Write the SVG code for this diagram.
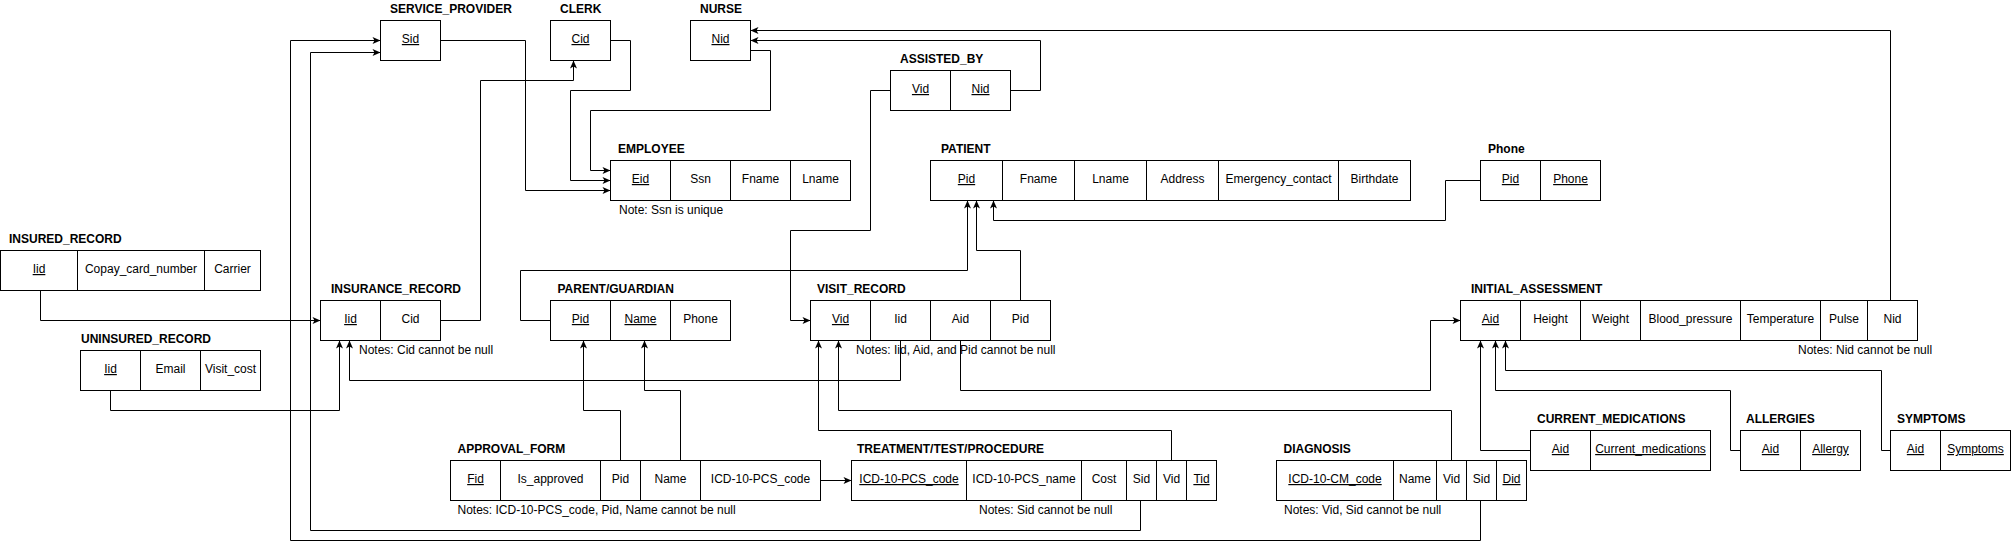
<svg xmlns="http://www.w3.org/2000/svg" width="2011" height="550" viewBox="0 0 2011 550">
<style>
rect{fill:#fff;stroke:#000;stroke-width:1}
text{font-family:"Liberation Sans",Arial,Helvetica,sans-serif;font-size:12px;fill:#000}
.c{text-anchor:middle}
.u{text-decoration:underline}
.l{font-weight:bold}
.e{fill:none;stroke:#000;stroke-width:1}
</style>
<defs>
<marker id="a" markerUnits="userSpaceOnUse" markerWidth="10" markerHeight="8" viewBox="0 0 10 8" refX="9" refY="4" orient="auto">
<path d="M1,0.5 L9,4 L1,7.5 L3,4 z" fill="#000"/>
</marker>
</defs>
<rect x="0" y="0" width="2011" height="550" style="stroke:none"/>
<g id="connectors">
<path class="e" marker-end="url(#a)" d="M440.5,40.5 H525.5 V190.5 H610.5"/>
<path class="e" marker-end="url(#a)" d="M610.5,40.5 H630.5 V90.5 H570.5 V180.5 H610.5"/>
<path class="e" marker-end="url(#a)" d="M750.5,50.5 H770.5 V110.5 H590.5 V170.5 H610.5"/>
<path class="e" marker-end="url(#a)" d="M440.5,320.5 H480.5 V80.5 H573.5 V60.5"/>
<path class="e" marker-end="url(#a)" d="M40.5,290.5 V320.5 H320.5"/>
<path class="e" marker-end="url(#a)" d="M110.5,390.5 V410.5 H339.5 V340.5"/>
<path class="e" marker-end="url(#a)" d="M900.5,340.5 V380.5 H349.5 V340.5"/>
<path class="e" marker-end="url(#a)" d="M1140.5,500.5 V530.5 H310.5 V52.5 H380.5"/>
<path class="e" marker-end="url(#a)" d="M1480.5,500.5 V540.5 H290.5 V40.5 H380.5"/>
<path class="e" marker-end="url(#a)" d="M1010.5,90.5 H1040.5 V40.5 H750.5"/>
<path class="e" marker-end="url(#a)" d="M1890.5,300.5 V30.5 H750.5"/>
<path class="e" marker-end="url(#a)" d="M890.5,90.5 H870.5 V230.5 H790.5 V320.5 H810.5"/>
<path class="e" marker-end="url(#a)" d="M550.5,320.5 H520.5 V270.5 H967.5 V200.5"/>
<path class="e" marker-end="url(#a)" d="M1020.5,300.5 V250.5 H976.5 V200.5"/>
<path class="e" marker-end="url(#a)" d="M1480.5,180.5 H1445.5 V220.5 H993.5 V200.5"/>
<path class="e" marker-end="url(#a)" d="M960.5,340.5 V390.5 H1430.5 V320.5 H1460.5"/>
<path class="e" marker-end="url(#a)" d="M1451.5,460.5 V410.5 H838.5 V340.5"/>
<path class="e" marker-end="url(#a)" d="M1171.5,460.5 V430.5 H818.5 V340.5"/>
<path class="e" marker-end="url(#a)" d="M620.5,460.5 V410.5 H583.5 V340.5"/>
<path class="e" marker-end="url(#a)" d="M680.5,460.5 V390.5 H644.5 V340.5"/>
<path class="e" marker-end="url(#a)" d="M820.5,480.5 H851.5"/>
<path class="e" marker-end="url(#a)" d="M1530.5,450.5 H1480.5 V340.5"/>
<path class="e" marker-end="url(#a)" d="M1740.5,450.5 H1730.5 V390.5 H1495.5 V340.5"/>
<path class="e" marker-end="url(#a)" d="M1890.5,450.5 H1881.5 V370.5 H1505.5 V340.5"/>
</g>
<g id="service_provider">
<text class="l" x="390" y="13">SERVICE_PROVIDER</text>
<rect x="380.5" y="20.5" width="60" height="40"/>
<text class="c u" x="410.5" y="43">Sid</text>
</g>
<g id="clerk">
<text class="l" x="560" y="13">CLERK</text>
<rect x="550.5" y="20.5" width="60" height="40"/>
<text class="c u" x="580.5" y="43">Cid</text>
</g>
<g id="nurse">
<text class="l" x="700" y="13">NURSE</text>
<rect x="690.5" y="20.5" width="60" height="40"/>
<text class="c u" x="720.5" y="43">Nid</text>
</g>
<g id="employee">
<text class="l" x="618" y="153">EMPLOYEE</text>
<rect x="610.5" y="160.5" width="60" height="40"/>
<rect x="670.5" y="160.5" width="60" height="40"/>
<rect x="730.5" y="160.5" width="60" height="40"/>
<rect x="790.5" y="160.5" width="60" height="40"/>
<text class="c u" x="640.5" y="183">Eid</text>
<text class="c" x="700.5" y="183">Ssn</text>
<text class="c" x="760.5" y="183">Fname</text>
<text class="c" x="820.5" y="183">Lname</text>
<text x="619" y="214">Note: Ssn is unique</text>
</g>
<g id="assisted_by">
<text class="l" x="900" y="63">ASSISTED_BY</text>
<rect x="890.5" y="70.5" width="60" height="40"/>
<rect x="950.5" y="70.5" width="60" height="40"/>
<text class="c u" x="920.5" y="93">Vid</text>
<text class="c u" x="980.5" y="93">Nid</text>
</g>
<g id="patient">
<text class="l" x="941" y="153">PATIENT</text>
<rect x="930.5" y="160.5" width="72" height="40"/>
<rect x="1002.5" y="160.5" width="72" height="40"/>
<rect x="1074.5" y="160.5" width="72" height="40"/>
<rect x="1146.5" y="160.5" width="72" height="40"/>
<rect x="1218.5" y="160.5" width="120" height="40"/>
<rect x="1338.5" y="160.5" width="72" height="40"/>
<text class="c u" x="966.5" y="183">Pid</text>
<text class="c" x="1038.5" y="183">Fname</text>
<text class="c" x="1110.5" y="183">Lname</text>
<text class="c" x="1182.5" y="183">Address</text>
<text class="c" x="1278.5" y="183">Emergency_contact</text>
<text class="c" x="1374.5" y="183">Birthdate</text>
</g>
<g id="phone">
<text class="l" x="1488" y="153">Phone</text>
<rect x="1480.5" y="160.5" width="60" height="40"/>
<rect x="1540.5" y="160.5" width="60" height="40"/>
<text class="c u" x="1510.5" y="183">Pid</text>
<text class="c u" x="1570.5" y="183">Phone</text>
</g>
<g id="insured_record">
<text class="l" x="9" y="243">INSURED_RECORD</text>
<rect x="0.5" y="250.5" width="77" height="40"/>
<rect x="77.5" y="250.5" width="127" height="40"/>
<rect x="204.5" y="250.5" width="56" height="40"/>
<text class="c u" x="39" y="273">Iid</text>
<text class="c" x="141" y="273">Copay_card_number</text>
<text class="c" x="232.5" y="273">Carrier</text>
</g>
<g id="insurance_record">
<text class="l" x="331" y="293">INSURANCE_RECORD</text>
<rect x="320.5" y="300.5" width="60" height="40"/>
<rect x="380.5" y="300.5" width="60" height="40"/>
<text class="c u" x="350.5" y="323">Iid</text>
<text class="c" x="410.5" y="323">Cid</text>
<text x="359" y="354">Notes: Cid cannot be null</text>
</g>
<g id="uninsured_record">
<text class="l" x="81" y="343">UNINSURED_RECORD</text>
<rect x="80.5" y="350.5" width="60" height="40"/>
<rect x="140.5" y="350.5" width="60" height="40"/>
<rect x="200.5" y="350.5" width="60" height="40"/>
<text class="c u" x="110.5" y="373">Iid</text>
<text class="c" x="170.5" y="373">Email</text>
<text class="c" x="230.5" y="373">Visit_cost</text>
</g>
<g id="parent_guardian">
<text class="l" x="557.5" y="293">PARENT/GUARDIAN</text>
<rect x="550.5" y="300.5" width="60" height="40"/>
<rect x="610.5" y="300.5" width="60" height="40"/>
<rect x="670.5" y="300.5" width="60" height="40"/>
<text class="c u" x="580.5" y="323">Pid</text>
<text class="c u" x="640.5" y="323">Name</text>
<text class="c" x="700.5" y="323">Phone</text>
</g>
<g id="visit_record">
<text class="l" x="817" y="293">VISIT_RECORD</text>
<rect x="810.5" y="300.5" width="60" height="40"/>
<rect x="870.5" y="300.5" width="60" height="40"/>
<rect x="930.5" y="300.5" width="60" height="40"/>
<rect x="990.5" y="300.5" width="60" height="40"/>
<text class="c u" x="840.5" y="323">Vid</text>
<text class="c" x="900.5" y="323">Iid</text>
<text class="c" x="960.5" y="323">Aid</text>
<text class="c" x="1020.5" y="323">Pid</text>
<text x="856" y="354">Notes: Iid, Aid, and Pid cannot be null</text>
</g>
<g id="initial_assessment">
<text class="l" x="1471" y="293">INITIAL_ASSESSMENT</text>
<rect x="1460.5" y="300.5" width="60" height="40"/>
<rect x="1520.5" y="300.5" width="60" height="40"/>
<rect x="1580.5" y="300.5" width="60" height="40"/>
<rect x="1640.5" y="300.5" width="100" height="40"/>
<rect x="1740.5" y="300.5" width="80" height="40"/>
<rect x="1820.5" y="300.5" width="47" height="40"/>
<rect x="1867.5" y="300.5" width="50" height="40"/>
<text class="c u" x="1490.5" y="323">Aid</text>
<text class="c" x="1550.5" y="323">Height</text>
<text class="c" x="1610.5" y="323">Weight</text>
<text class="c" x="1690.5" y="323">Blood_pressure</text>
<text class="c" x="1780.5" y="323">Temperature</text>
<text class="c" x="1844" y="323">Pulse</text>
<text class="c" x="1892.5" y="323">Nid</text>
<text x="1798" y="354">Notes: Nid cannot be null</text>
</g>
<g id="approval_form">
<text class="l" x="457.5" y="453">APPROVAL_FORM</text>
<rect x="450.5" y="460.5" width="50" height="40"/>
<rect x="500.5" y="460.5" width="100" height="40"/>
<rect x="600.5" y="460.5" width="40" height="40"/>
<rect x="640.5" y="460.5" width="60" height="40"/>
<rect x="700.5" y="460.5" width="120" height="40"/>
<text class="c u" x="475.5" y="483">Fid</text>
<text class="c" x="550.5" y="483">Is_approved</text>
<text class="c" x="620.5" y="483">Pid</text>
<text class="c" x="670.5" y="483">Name</text>
<text class="c" x="760.5" y="483">ICD-10-PCS_code</text>
<text x="457.5" y="514">Notes: ICD-10-PCS_code, Pid, Name cannot be null</text>
</g>
<g id="treatment_test_procedure">
<text class="l" x="857" y="453">TREATMENT/TEST/PROCEDURE</text>
<rect x="851.5" y="460.5" width="115" height="40"/>
<rect x="966.5" y="460.5" width="115" height="40"/>
<rect x="1081.5" y="460.5" width="45" height="40"/>
<rect x="1126.5" y="460.5" width="30" height="40"/>
<rect x="1156.5" y="460.5" width="30" height="40"/>
<rect x="1186.5" y="460.5" width="30" height="40"/>
<text class="c u" x="909" y="483">ICD-10-PCS_code</text>
<text class="c" x="1024" y="483">ICD-10-PCS_name</text>
<text class="c" x="1104" y="483">Cost</text>
<text class="c" x="1141.5" y="483">Sid</text>
<text class="c" x="1171.5" y="483">Vid</text>
<text class="c u" x="1201.5" y="483">Tid</text>
<text x="979" y="514">Notes: Sid cannot be null</text>
</g>
<g id="diagnosis">
<text class="l" x="1283.5" y="453">DIAGNOSIS</text>
<rect x="1276.5" y="460.5" width="117" height="40"/>
<rect x="1393.5" y="460.5" width="43" height="40"/>
<rect x="1436.5" y="460.5" width="30" height="40"/>
<rect x="1466.5" y="460.5" width="30" height="40"/>
<rect x="1496.5" y="460.5" width="30" height="40"/>
<text class="c u" x="1335" y="483">ICD-10-CM_code</text>
<text class="c" x="1415" y="483">Name</text>
<text class="c" x="1451.5" y="483">Vid</text>
<text class="c" x="1481.5" y="483">Sid</text>
<text class="c u" x="1511.5" y="483">Did</text>
<text x="1284" y="514">Notes: Vid, Sid cannot be null</text>
</g>
<g id="current_medications">
<text class="l" x="1537" y="423">CURRENT_MEDICATIONS</text>
<rect x="1530.5" y="430.5" width="60" height="40"/>
<rect x="1590.5" y="430.5" width="120" height="40"/>
<text class="c u" x="1560.5" y="453">Aid</text>
<text class="c u" x="1650.5" y="453">Current_medications</text>
</g>
<g id="allergies">
<text class="l" x="1746" y="423">ALLERGIES</text>
<rect x="1740.5" y="430.5" width="60" height="40"/>
<rect x="1800.5" y="430.5" width="60" height="40"/>
<text class="c u" x="1770.5" y="453">Aid</text>
<text class="c u" x="1830.5" y="453">Allergy</text>
</g>
<g id="symptoms">
<text class="l" x="1897" y="423">SYMPTOMS</text>
<rect x="1890.5" y="430.5" width="50" height="40"/>
<rect x="1940.5" y="430.5" width="70" height="40"/>
<text class="c u" x="1915.5" y="453">Aid</text>
<text class="c u" x="1975.5" y="453">Symptoms</text>
</g>
</svg>
